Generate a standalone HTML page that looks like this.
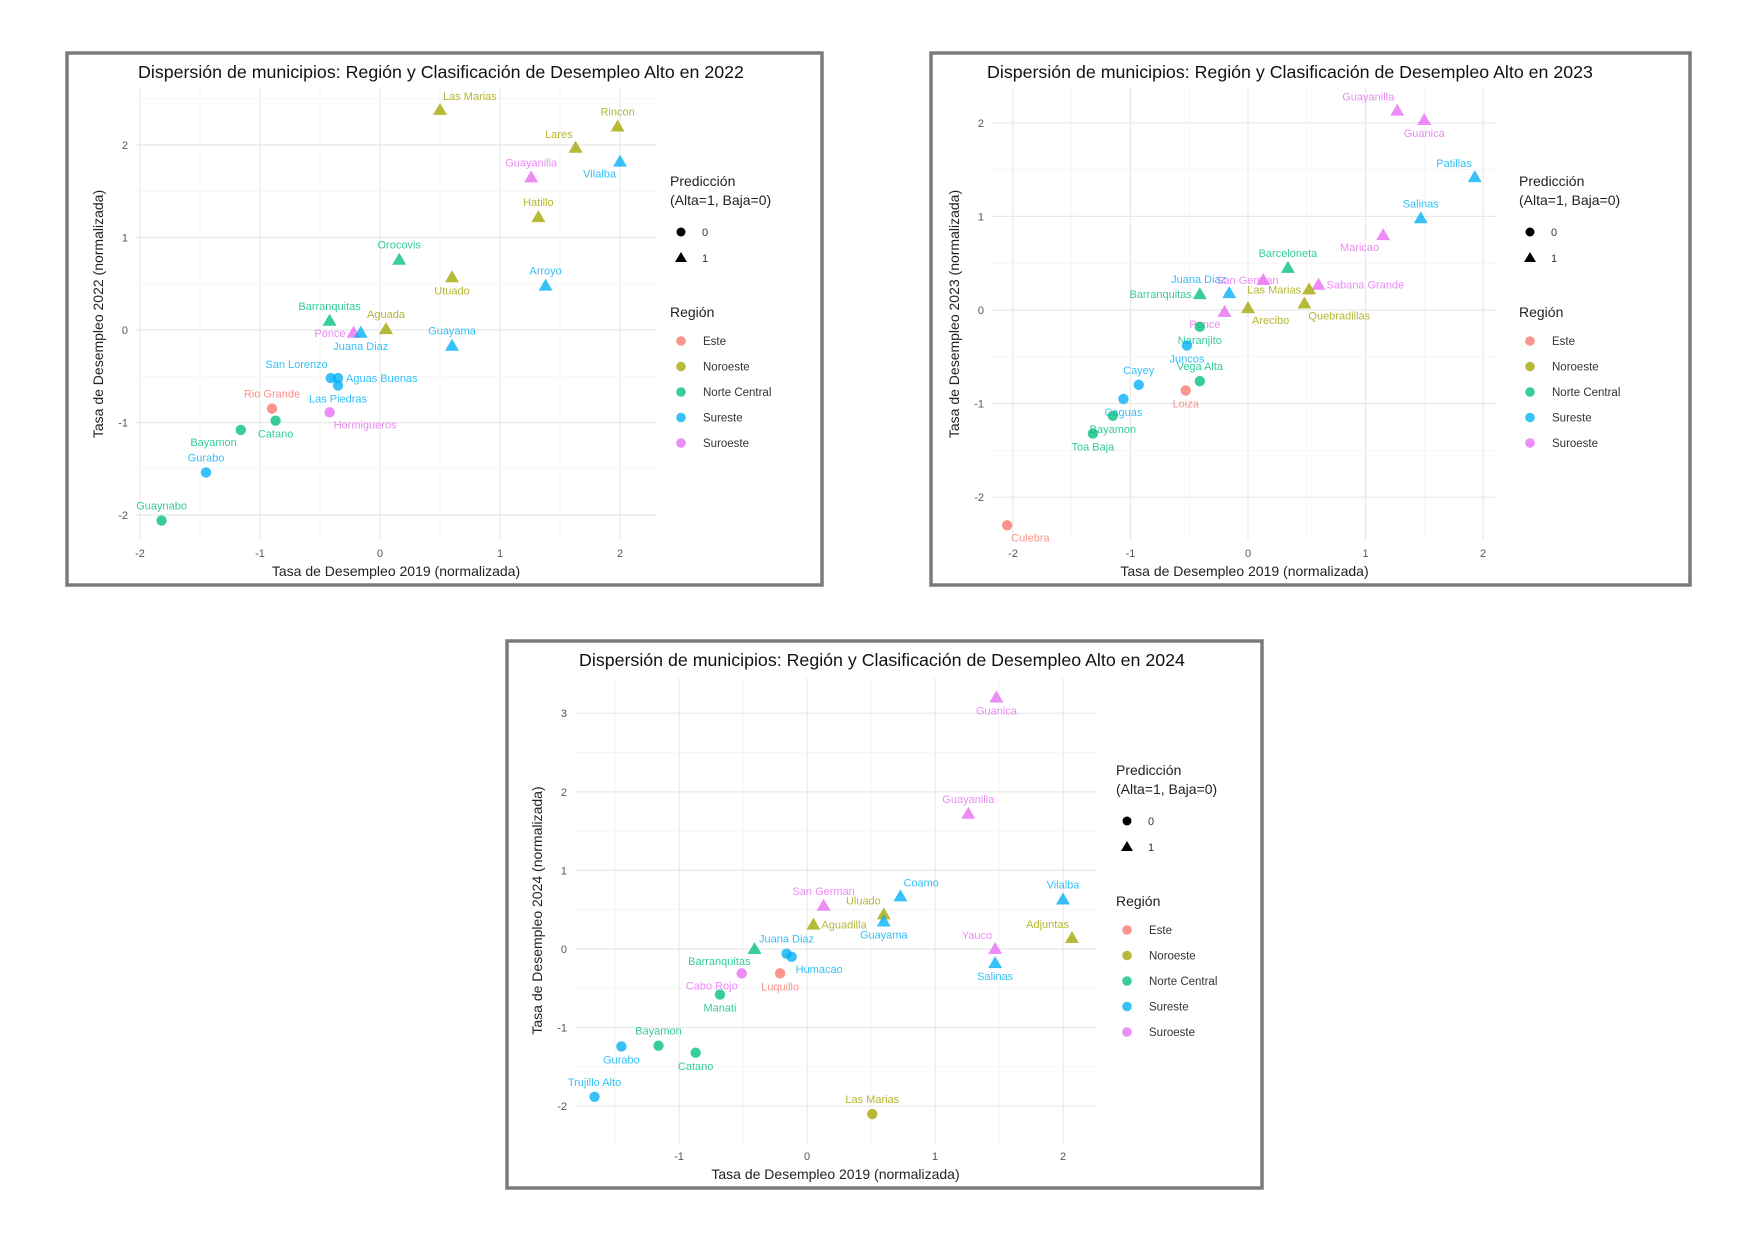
<!DOCTYPE html>
<html><head><meta charset="utf-8">
<style>
html,body{margin:0;padding:0;background:#fff;}
svg{display:block;font-family:"Liberation Sans",Arial,sans-serif;}
</style></head>
<body>
<svg id="root" width="1758" height="1234" viewBox="0 0 1758 1234"></svg>
<script>
// ---- shared ----
const regionNames = ["Este","Noroeste","Norte Central","Sureste","Suroeste"];
const regionColors = ["#F8766D","#A3A500","#00BF7D","#00B0F6","#E76BF3"];

// ---- panel 2022 data ----
const names2022 = ["Las Marias","Rincon","Lares","Vilalba","Guayanilla","Hatillo","Orocovis","Utuado","Arroyo","Barranquitas","Aguada","Ponce","Juana Diaz","Guayama","San Lorenzo","Aguas Buenas","Las Piedras","Rio Grande","Hormigueros","Catano","Bayamon","Gurabo","Guaynabo"];
const x2022 = [0.5,1.98,1.63,2.0,1.26,1.32,0.16,0.6,1.38,-0.42,0.05,-0.22,-0.16,0.6,-0.41,-0.35,-0.35,-0.9,-0.42,-0.87,-1.16,-1.45,-1.82];
const y2022 = [2.38,2.2,1.97,1.82,1.65,1.22,0.76,0.57,0.48,0.1,0.01,-0.03,-0.03,-0.17,-0.52,-0.52,-0.6,-0.85,-0.89,-0.98,-1.08,-1.54,-2.06];
const region2022 = [1,1,1,3,4,1,2,1,3,2,1,4,3,3,3,3,3,0,4,2,2,3,2];
const pred2022 = [1,1,1,1,1,1,1,1,1,1,1,1,1,1,0,0,0,0,0,0,0,0,0];
const lab2022 = ["tr","t","tl","bl","t","t","t","b","t","t","t","l","b","t","tl","r","b","t","br","b","bl","t","t"];

// ---- panel 2023 data ----
const names2023 = ["Guayanilla","Guanica","Patillas","Salinas","Maricao","Barceloneta","Juana Diaz","San German","Sabana Grande","Barranquitas","Las Marias","Quebradillas","Arecibo","Ponce","Naranjito","Juncos","Vega Alta","Cayey","Loiza","Caguas","Bayamon","Toa Baja","Culebra"];
const x2023 = [1.27,1.5,1.93,1.47,1.15,0.34,-0.16,0.13,0.6,-0.41,0.52,0.48,0.0,-0.2,-0.41,-0.52,-0.41,-0.93,-0.53,-1.06,-1.15,-1.32,-2.05];
const y2023 = [2.13,2.03,1.42,0.98,0.8,0.45,0.18,0.32,0.27,0.17,0.22,0.07,0.02,-0.02,-0.18,-0.38,-0.76,-0.8,-0.86,-0.95,-1.13,-1.32,-2.3];
const region2023 = [4,4,3,3,4,2,3,4,4,2,1,1,1,4,2,3,2,3,0,3,2,2,0];
const pred2023 = [1,1,1,1,1,1,1,1,1,1,1,1,1,1,0,0,0,0,0,0,0,0,0];
const lab2023 = ["tl","b","tl","t","bl","t","tl","sg","r","l","l","br","br","bl","b","b","t","t","b","b","b","b","br"];

// ---- panel 2024 data ----
const names2024 = ["Guanica","Guayanilla","Coamo","Vilalba","San German","Uluado","Guayama","Aguadilla","Adjuntas","Yauco","Salinas","Barranquitas","Juana Diaz","Humacao","Cabo Rojo","Luquillo","Manati","Bayamon","Gurabo","Catano","Trujillo Alto","Las Marias"];
const x2024 = [1.48,1.26,0.73,2.0,0.13,0.6,0.6,0.05,2.07,1.47,1.47,-0.41,-0.16,-0.12,-0.51,-0.21,-0.68,-1.16,-1.45,-0.87,-1.66,0.51];
const y2024 = [3.2,1.72,0.67,0.63,0.55,0.44,0.35,0.31,0.14,0.0,-0.18,0.0,-0.06,-0.1,-0.31,-0.31,-0.58,-1.23,-1.24,-1.32,-1.88,-2.1];
const region2024 = [4,4,3,3,4,1,3,1,1,4,3,2,3,3,4,0,2,2,3,2,3,1];
const pred2024 = [1,1,1,1,1,1,1,1,1,1,1,1,0,0,0,0,0,0,0,0,0,0];
const lab2024 = ["b","t","tr","t","t","tl","b","r","tl","tl","b","bl","t","br","bl","b","b","t","b","b","t","t"];

const xTicks2022 = [-2,-1,0,1,2], yTicks2022 = [-2,-1,0,1,2];
const xTicks2023 = [-2,-1,0,1,2], yTicks2023 = [-2,-1,0,1,2];
const xTicks2024 = [-1,0,1,2], yTicks2024 = [-2,-1,0,1,2,3];

const NS = "http://www.w3.org/2000/svg";
const root = document.getElementById("root");
function mk(tag, attrs, parent, text){
  const e = document.createElementNS(NS, tag);
  for (const k in attrs) e.setAttribute(k, attrs[k]);
  if (text !== undefined) e.textContent = text;
  (parent||root).appendChild(e);
  return e;
}

function panel(cfg){
  const g = mk("g", {});
  
  
  const X = v => cfg.x0 + v*cfg.xs;
  const Y = v => cfg.y0 - v*cfg.ys;
  const br = mk("rect",{x:cfg.bx,y:cfg.by,width:cfg.bw,height:cfg.bh,fill:"#fff",stroke:"#7a7a7a","stroke-width":3.5},g);
  
  
  const t = mk("text",{x:cfg.tcx,y:cfg.by+25,"text-anchor":"middle","font-size":17.8,fill:"#111"},g,"Dispersión de municipios: Región y Clasificación de Desempleo Alto en "+cfg.year);
  
  
  const grid = mk("g",{},g);
  
  
  const xt = cfg.xTicks, yt = cfg.yTicks;
  for (let v=xt[0]-0.5; v<=xt[xt.length-1]+0.5; v+=0.5) {
    const px = X(v); if (px < cfg.px0-1 || px > cfg.px1+1) continue;
    mk("line",{x1:px,x2:px,y1:cfg.py0,y2:cfg.py1,stroke:Number.isInteger(v)?"#e8e8e8":"#f3f3f3","stroke-width":Number.isInteger(v)?1.2:0.8},grid);
  }
  for (let v=yt[0]-0.5; v<=yt[yt.length-1]+0.5; v+=0.5) {
    const py = Y(v); if (py < cfg.py0-1 || py > cfg.py1+1) continue;
    mk("line",{x1:cfg.px0,x2:cfg.px1,y1:py,y2:py,stroke:Number.isInteger(v)?"#e8e8e8":"#f3f3f3","stroke-width":Number.isInteger(v)?1.2:0.8},grid);
  }
  xt.forEach(v=>{
    const e = mk("text",{x:X(v),y:cfg.py1+17,"text-anchor":"middle","font-size":11,fill:"#555"},g,String(v));
    
    
  });
  yt.forEach(v=>{
    const e = mk("text",{x:cfg.px0-8,y:Y(v)+4,"text-anchor":"end","font-size":11,fill:"#555"},g,String(v));
    
    
  });
  const xa = mk("text",{x:(cfg.px0+cfg.px1)/2,y:cfg.py1+36,"text-anchor":"middle","font-size":14,fill:"#222"},g,"Tasa de Desempleo 2019 (normalizada)");
  
  
  const ycx = cfg.px0-33, ycy = (cfg.py0+cfg.py1)/2;
  const ya = mk("text",{x:ycx,y:ycy,"text-anchor":"middle","font-size":14,fill:"#222",transform:`rotate(-90 ${ycx} ${ycy})`},g,"Tasa de Desempleo "+cfg.year+" (normalizada)");
  
  
  const pts = mk("g",{},g);
  
  
  const off = {t:[0,-11,"middle"],b:[0,17,"middle"],l:[-8,4,"end"],r:[8,4,"start"],tl:[-3,-10,"end"],tr:[3,-10,"start"],bl:[-4,16,"end"],br:[4,16,"start"],sg:[-16,4,"middle"]};
  cfg.names.forEach((n,i)=>{
    const px = X(cfg.xs_[i]), py = Y(cfg.ys_[i]);
    const col = regionColors[cfg.reg[i]];
    let m;
    if (cfg.pred[i]===1) {
      m = mk("path",{d:`M${px},${py-7} L${px+7},${py+5} L${px-7},${py+5} Z`,fill:col,"fill-opacity":0.78},pts);
    } else {
      m = mk("circle",{cx:px,cy:py,r:5.2,fill:col,"fill-opacity":0.78},pts);
    }
    
    
    const o = off[cfg.lab[i]];
    const lt = mk("text",{x:px+o[0],y:py+o[1],"text-anchor":o[2],"font-size":11,fill:col,"fill-opacity":0.8},pts,n);
    
    
  });
  const lg = mk("g",{},g);
  
  
  const lx = cfg.lx, ly = cfg.ly;
  mk("text",{x:lx,y:ly,"font-size":14,fill:"#222"},lg,"Predicción");
  mk("text",{x:lx,y:ly+19,"font-size":14,fill:"#222"},lg,"(Alta=1, Baja=0)");
  const c0 = mk("circle",{cx:lx+11,cy:ly+46,r:4.5,fill:"#000"},lg);
  
  
  mk("text",{x:lx+32,y:ly+50,"font-size":11,fill:"#333"},lg,"0");
  const t1 = mk("path",{d:`M${lx+11},${ly+66} L${lx+17},${ly+76} L${lx+5},${ly+76} Z`,fill:"#000"},lg);
  
  
  mk("text",{x:lx+32,y:ly+76,"font-size":11,fill:"#333"},lg,"1");
  mk("text",{x:lx,y:ly+131,"font-size":14,fill:"#222"},lg,"Región");
  regionNames.forEach((r,i)=>{
    const cy = ly+155+i*25.5;
    const c = mk("circle",{cx:lx+11,cy:cy,r:4.8,fill:regionColors[i],"fill-opacity":0.78},lg);
    
    
    mk("text",{x:lx+33,y:cy+4,"font-size":11.5,fill:"#333"},lg,r);
  });
}

panel({year:2022,bx:67,by:53,bw:755,bh:532,tcx:441,x0:380,xs:120,y0:330,ys:92.5,px0:136,px1:656,py0:88,py1:540,
  xTicks:xTicks2022,yTicks:yTicks2022,names:names2022,xs_:x2022,ys_:y2022,reg:region2022,pred:pred2022,lab:lab2022,lx:670,ly:186});
panel({year:2023,bx:931,by:53,bw:759,bh:532,tcx:1290,x0:1248,xs:117.5,y0:310,ys:93.6,px0:992,px1:1497,py0:88,py1:540,
  xTicks:xTicks2023,yTicks:yTicks2023,names:names2023,xs_:x2023,ys_:y2023,reg:region2023,pred:pred2023,lab:lab2023,lx:1519,ly:186});
panel({year:2024,bx:507,by:641,bw:755,bh:547,tcx:882,x0:807,xs:128,y0:949,ys:78.6,px0:575,px1:1096,py0:678,py1:1143,
  xTicks:xTicks2024,yTicks:yTicks2024,names:names2024,xs_:x2024,ys_:y2024,reg:region2024,pred:pred2024,lab:lab2024,lx:1116,ly:775});
</script>
</body></html>
